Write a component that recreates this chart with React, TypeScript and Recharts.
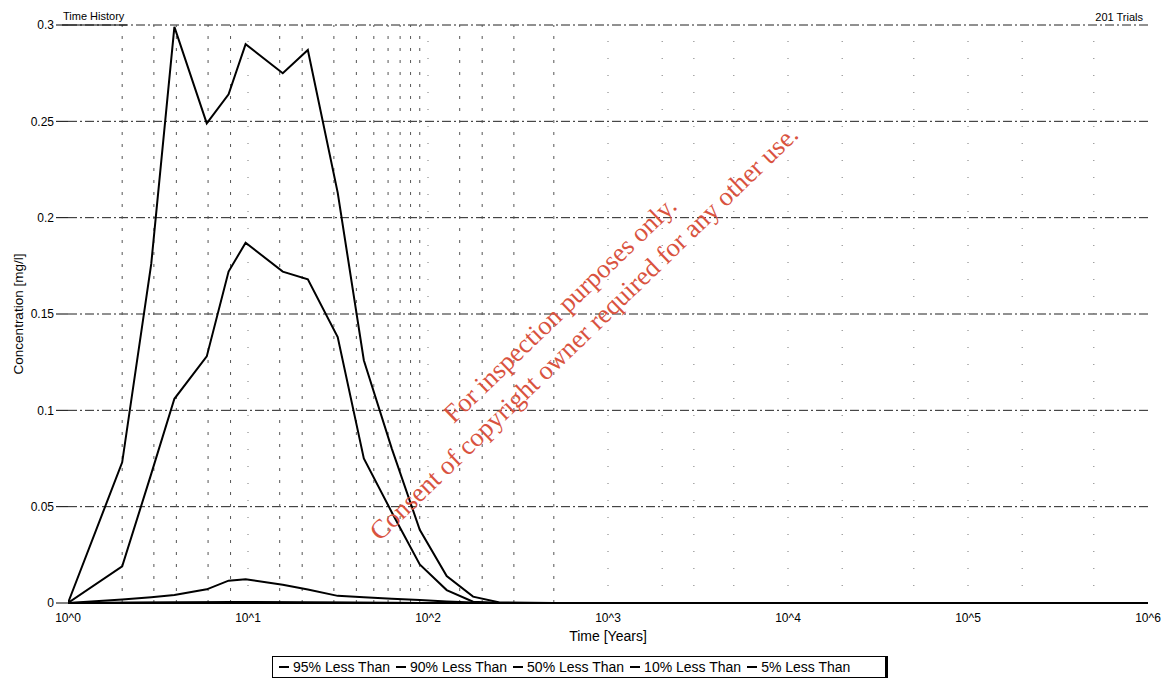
import React from 'react';
import { LineChart, Line, XAxis, YAxis, CartesianGrid, ReferenceLine } from 'recharts';

const times = [1, 2, 2.9, 3.9, 5.9, 7.8, 9.7, 15.6, 21.5, 31.5, 44, 63, 90, 127, 178, 250, 500, 1000, 10000, 100000, 1000000];
const p95 = [0, 0.073, 0.176, 0.299, 0.249, 0.264, 0.29, 0.275, 0.287, 0.213, 0.126, 0.08, 0.038, 0.014, 0.0033, 0.0003, 0, 0, 0, 0, 0];
const p90 = [0, 0.019, 0.067, 0.106, 0.128, 0.172, 0.187, 0.172, 0.168, 0.138, 0.075, 0.047, 0.02, 0.0067, 0.0007, 0, 0, 0, 0, 0, 0];
const p50 = [0, 0.0018, 0.003, 0.0042, 0.0071, 0.0116, 0.0123, 0.0095, 0.007, 0.0037, 0.003, 0.0022, 0.0015, 0.0008, 0.0002, 0, 0, 0, 0, 0, 0];
const p10 = [0, 0.0001, 0.0002, 0.0003, 0.0004, 0.0005, 0.0005, 0.0004, 0.0003, 0.0002, 0.0001, 0.0001, 0, 0, 0, 0, 0, 0, 0, 0, 0];
const p05 = [0, 0.0001, 0.0001, 0.0002, 0.0002, 0.0003, 0.0003, 0.0002, 0.0002, 0.0001, 0.0001, 0, 0, 0, 0, 0, 0, 0, 0, 0, 0];

const seriesNames = ['95% Less Than', '90% Less Than', '50% Less Than', '10% Less Than', '5% Less Than'];
const seriesKeys = ['p95', 'p90', 'p50', 'p10', 'p05'];
const xTicks = [1, 10, 100, 1000, 10000, 100000, 1000000];
const xTickLabels = ['10^0', '10^1', '10^2', '10^3', '10^4', '10^5', '10^6'];
const yTicks = [0, 0.05, 0.1, 0.15, 0.2, 0.25, 0.3];
const minorGrid = [2, 3, 4, 6, 8, 15, 20, 30, 40, 50, 60, 70, 80, 90, 150, 200, 300, 500];
const sparseGrid = [10, 100, 1000, 2000, 3000, 5000, 10000, 20000, 50000, 100000, 200000, 500000];

const data = times.map((t, i) => ({ t, p95: p95[i], p90: p90[i], p50: p50[i], p10: p10[i], p05: p05[i] }));

export default function App() {
  const font = '"Liberation Sans", Arial, sans-serif';
  return (
    <div style={{ position: 'absolute', left: 0, top: 0, width: 1170, height: 680, background: '#fff', fontFamily: font, overflow: 'hidden' }}>
      <LineChart width={1170} height={680} data={data} margin={{ top: 25, right: 22, bottom: 37, left: 0 }}>
        <CartesianGrid vertical={false} stroke="#222" strokeDasharray="9 3 2 3" />
        {minorGrid.map((v) => (
          <ReferenceLine key={'m' + v} x={v} stroke="#555" strokeDasharray="3 9" strokeWidth={1} />
        ))}
        {sparseGrid.map((v) => (
          <ReferenceLine key={'s' + v} x={v} stroke="#777" strokeDasharray="1 16" strokeWidth={1} />
        ))}
        <XAxis
          dataKey="t"
          type="number"
          scale="log"
          domain={[1, 1000000]}
          allowDataOverflow
          ticks={xTicks}
          tickFormatter={(v: number) => xTickLabels[xTicks.indexOf(v)] ?? ''}
          axisLine={{ stroke: '#000', strokeWidth: 2 }}
          tickLine={false}
          tickSize={8}
          tickMargin={2}
          height={40}
          tick={{ fill: '#000', fontSize: 12, fontFamily: font }}
          label={{ value: 'Time [Years]', position: 'insideBottom', offset: 2, fill: '#000', fontSize: 14, fontFamily: font }}
        />
        <YAxis
          type="number"
          domain={[0, 0.3]}
          ticks={yTicks}
          width={68}
          axisLine={false}
          tickLine={{ stroke: '#000' }}
          tickSize={12}
          tickMargin={2}
          tick={{ fill: '#000', fontSize: 12, fontFamily: font }}
          label={{ value: 'Concentration [mg/l]', angle: -90, position: 'insideLeft', offset: 18, fill: '#000', fontSize: 13.5, fontFamily: font, style: { textAnchor: 'middle' } }}
        />
        {seriesKeys.map((k, i) => (
          <Line key={k} type="linear" dataKey={k} name={seriesNames[i]} stroke="#000" strokeWidth={2} dot={false} isAnimationActive={false} />
        ))}
      </LineChart>
      <svg width={1170} height={680} style={{ position: 'absolute', left: 0, top: 0, pointerEvents: 'none' }}>
        <text x={63} y={20} fontSize={11} fontFamily={font} fill="#000">Time History</text>
        <line x1={62} y1={25} x2={127} y2={25} stroke="#000" strokeWidth={1} />
        <text x={1143} y={21} fontSize={11} fontFamily={font} fill="#000" textAnchor="end">201 Trials</text>
        <g fill="#d9533f" fontFamily='"Liberation Serif", "DejaVu Serif", serif' fontSize={26.5} textAnchor="middle">
          <text x={566} y={316} transform="rotate(-44 566 316)">For inspection purposes only.</text>
          <text x={590} y={339} transform="rotate(-44 590 339)">Consent of copyright owner required for any other use.</text>
        </g>
      </svg>
      <div style={{ position: 'absolute', left: 272, top: 656, width: 616, height: 22, border: '1px solid #000', borderRightWidth: 3, display: 'flex', alignItems: 'center', paddingLeft: 6, boxSizing: 'border-box', fontSize: 14, fontFamily: font, whiteSpace: 'nowrap', color: '#000' }}>
        {seriesNames.map((n) => (
          <span key={n} style={{ display: 'inline-flex', alignItems: 'center', marginRight: 6 }}>
            <span style={{ display: 'inline-block', width: 10, height: 2, background: '#000', marginRight: 4 }} />
            {n}
          </span>
        ))}
      </div>
    </div>
  );
}
